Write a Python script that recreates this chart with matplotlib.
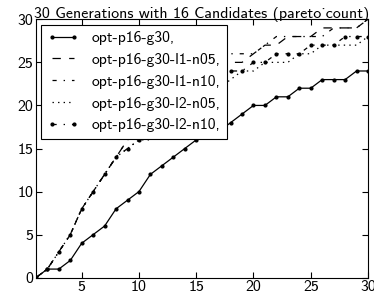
import matplotlib
matplotlib.use("Agg")
import matplotlib.pyplot as plt

# generation number (x axis)
gens = [1, 2, 3, 4, 5, 6, 7, 8, 9, 10, 11, 12, 13, 14, 15,
        16, 17, 18, 19, 20, 21, 22, 23, 24, 25, 26, 27, 28, 29, 30]

# pareto count per generation, one list per run
p16_g30 = [0, 1, 1, 2, 4, 5, 6, 8, 9, 10, 12, 13, 14, 15, 16,
           17, 17, 18, 19, 20, 20, 21, 21, 22, 22, 23, 23, 23, 24, 24]
l1_n05 = [0, 1, 3, 5, 8, 10, 12, 14, 16, 17, 18, 19, 20, 21, 22,
          23, 24, 25, 25, 26, 27, 27, 28, 28, 28, 29, 29, 29, 29, 30]
l1_n10 = [0, 1, 3, 5, 8, 10, 12, 14, 16, 17, 18, 19, 20, 21, 22,
          24, 25, 26, 26, 26, 27, 28, 28, 28, 28, 28, 29, 29, 29, 30]
l2_n05 = [0, 1, 3, 5, 8, 10, 12, 14, 15, 16, 16, 17, 18, 19, 20,
          21, 22, 23, 24, 24, 25, 25, 25, 26, 26, 27, 27, 27, 27, 28]
l2_n10 = [0, 1, 3, 5, 8, 10, 12, 14, 15, 16, 17, 18, 19, 20, 21,
          22, 23, 24, 24, 25, 25, 26, 26, 26, 27, 27, 27, 28, 28, 28]

labels = ["opt-p16-g30,", "opt-p16-g30-l1-n05,", "opt-p16-g30-l1-n10,",
          "opt-p16-g30-l2-n05,", "opt-p16-g30-l2-n10,"]
title = "30 Generations with 16 Candidates (pareto_count)"

plt.rcParams["font.family"] = ["cmss10", "DejaVu Sans"]
plt.rcParams["axes.unicode_minus"] = False
# old-style dash patterns
plt.rcParams["lines.scale_dashes"] = False
plt.rcParams["lines.dashed_pattern"] = [6, 6]
plt.rcParams["lines.dashdot_pattern"] = [3, 5, 1, 5]
plt.rcParams["lines.dotted_pattern"] = [1, 3]

fig = plt.figure(figsize=(3.74, 2.97), dpi=100)
ax = fig.add_axes([0.096, 0.065, 0.888, 0.870])

lw = 0.9
ax.plot(gens, p16_g30, "k-", marker=".", ms=4, lw=lw, label=labels[0])
ax.plot(gens, l1_n05, "k--", lw=lw, label=labels[1])
ax.plot(gens, l1_n10, "k-.", lw=lw, label=labels[2])
ax.plot(gens, l2_n05, "k:", lw=lw, label=labels[3])
ax.plot(gens, l2_n10, "k-.", marker=".", ms=4, lw=lw, label=labels[4])

ax.set_xlim(1, 30)
ax.set_ylim(0, 30)
ax.set_xticks([5, 10, 15, 20, 25, 30])
ax.set_yticks([0, 5, 10, 15, 20, 25, 30])
ax.tick_params(direction="in", top=True, right=True, length=4,
               labelsize=11.5, pad=2)
ax.set_title(title, fontsize=11.5, pad=1)

leg = ax.legend(loc="upper left", numpoints=2, fontsize=11.3,
                fancybox=False, framealpha=1, edgecolor="black",
                borderaxespad=0.35, handlelength=2.0)
leg.get_frame().set_linewidth(0.8)

fig.savefig("out.png", dpi=100)
